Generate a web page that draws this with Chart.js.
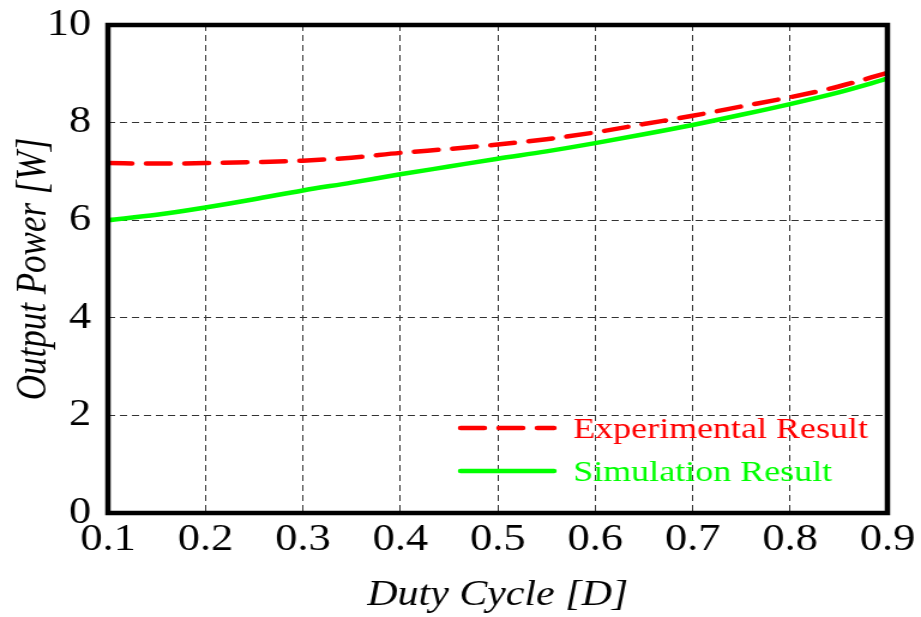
<!DOCTYPE html>
<html>
<head>
<meta charset="utf-8">
<script src="https://cdn.jsdelivr.net/npm/chart.js@4"></script>
<style>
  html, body { margin: 0; padding: 0; background: #fff; overflow: hidden; }
  #wrap { width: 768px; height: 617px; transform: scaleX(1.19922); transform-origin: 0 0; }
  #c { width: 768px; height: 617px; display: block; }
</style>
</head>
<body>
<div id="wrap"><canvas id="c" width="768" height="617"></canvas></div>
<script>
// ---- data ----
const dutyCycle = [0.10, 0.15, 0.20, 0.25, 0.30, 0.35, 0.40, 0.45, 0.50, 0.55, 0.60, 0.65, 0.70, 0.75, 0.80, 0.85, 0.90];
const experimentalResult = [7.17, 7.16, 7.17, 7.19, 7.22, 7.28, 7.38, 7.46, 7.55, 7.66, 7.80, 7.97, 8.14, 8.33, 8.52, 8.74, 9.02];
const simulationResult  = [6.00, 6.11, 6.26, 6.43, 6.61, 6.77, 6.94, 7.10, 7.26, 7.41, 7.58, 7.76, 7.95, 8.16, 8.38, 8.62, 8.90];
const xTickValues = [0.1, 0.2, 0.3, 0.4, 0.5, 0.6, 0.7, 0.8, 0.9];
const xTickLabels = ['0.1', '0.2', '0.3', '0.4', '0.5', '0.6', '0.7', '0.8', '0.9'];
const yTickValues = [0, 2, 4, 6, 8, 10];
const yTickLabels = ['0', '2', '4', '6', '8', '10'];
const seriesNames = ['Experimental Result', 'Simulation Result'];
const xTitle = 'Duty Cycle [D]';
const yTitle = 'Output Power [W]';

const SERIF = '"Liberation Serif", "Times New Roman", serif';

const frameAndLegend = {
  id: 'frameAndLegend',
  afterDraw(chart) {
    const ctx = chart.ctx;
    const a = chart.chartArea;
    ctx.save();
    ctx.strokeStyle = '#000';
    ctx.lineWidth = 4.5;
    ctx.lineJoin = 'miter';
    ctx.strokeRect(a.left, a.top, a.right - a.left, a.bottom - a.top);
    ctx.restore();

    // legend inside plot area
    const items = [
      { ds: chart.data.datasets[0], ly: 428, ty: 438 },
      { ds: chart.data.datasets[1], ly: 471, ty: 481 }
    ];
    ctx.save();
    ctx.font = '30px ' + SERIF;
    ctx.textAlign = 'left';
    ctx.textBaseline = 'alphabetic';
    for (const it of items) {
      ctx.beginPath();
      ctx.strokeStyle = it.ds.borderColor;
      ctx.lineWidth = it.ds.borderWidth;
      ctx.setLineDash(it.ds.borderDash || []);
      ctx.lineCap = 'round';
      ctx.moveTo(384, it.ly);
      ctx.lineTo(462, it.ly);
      ctx.stroke();
      ctx.setLineDash([]);
      ctx.fillStyle = it.ds.borderColor;
      ctx.fillText(it.ds.label, 478, it.ty);
    }
    ctx.restore();
  }
};

new Chart(document.getElementById('c'), {
  type: 'line',
  data: {
    datasets: [
      {
        label: seriesNames[0],
        data: dutyCycle.map((x, i) => ({ x, y: experimentalResult[i] })),
        borderColor: '#ff0000',
        borderWidth: 4.5,
        borderDash: [20, 12],
        borderCapStyle: 'round',
        pointRadius: 0,
        cubicInterpolationMode: 'monotone',
        fill: false
      },
      {
        label: seriesNames[1],
        data: dutyCycle.map((x, i) => ({ x, y: simulationResult[i] })),
        borderColor: '#00ff00',
        borderWidth: 4.5,
        pointRadius: 0,
        cubicInterpolationMode: 'monotone',
        fill: false
      }
    ]
  },
  options: {
    responsive: false,
    animation: false,
    devicePixelRatio: 1,
    layout: { padding: { top: 25, right: 28, bottom: 0, left: 0 } },
    plugins: {
      legend: { display: false },
      tooltip: { enabled: false }
    },
    scales: {
      x: {
        type: 'linear',
        min: 0.1,
        max: 0.9,
        afterBuildTicks(scale) { scale.ticks = xTickValues.map(v => ({ value: v })); },
        afterFit(scale) { scale.height = 104; scale.paddingLeft = 0; scale.paddingRight = 0; },
        ticks: {
          color: '#000',
          padding: 5,
          maxRotation: 0,
          autoSkip: false,
          font: { family: SERIF, size: 37 },
          callback: (v) => { const i = xTickValues.findIndex(t => Math.abs(t - v) < 1e-9); return i >= 0 ? xTickLabels[i] : ''; }
        },
        grid: { color: '#333', lineWidth: 1, drawTicks: false },
        border: { display: false, dash: [6, 4] },
        title: {
          display: true,
          text: xTitle,
          color: '#000',
          font: { family: SERIF, size: 35, style: 'italic' },
          padding: { top: 0, bottom: 0 }
        }
      },
      y: {
        type: 'linear',
        min: 0,
        max: 10,
        afterBuildTicks(scale) { scale.ticks = yTickValues.map(v => ({ value: v })); },
        afterFit(scale) { scale.width = 90; scale.paddingTop = 0; scale.paddingBottom = 0; },
        ticks: {
          color: '#000',
          padding: 14,
          font: { family: SERIF, size: 37 },
          callback: (v) => { const i = yTickValues.indexOf(v); return i >= 0 ? yTickLabels[i] : ''; }
        },
        grid: { color: '#333', lineWidth: 1, drawTicks: false },
        border: { display: false, dash: [6, 4] },
        title: {
          display: true,
          text: yTitle,
          color: '#000',
          font: { family: SERIF, size: 35, style: 'italic' },
          padding: { top: 8, bottom: 0 }
        }
      }
    }
  },
  plugins: [frameAndLegend]
});
</script>
</body>
</html>
